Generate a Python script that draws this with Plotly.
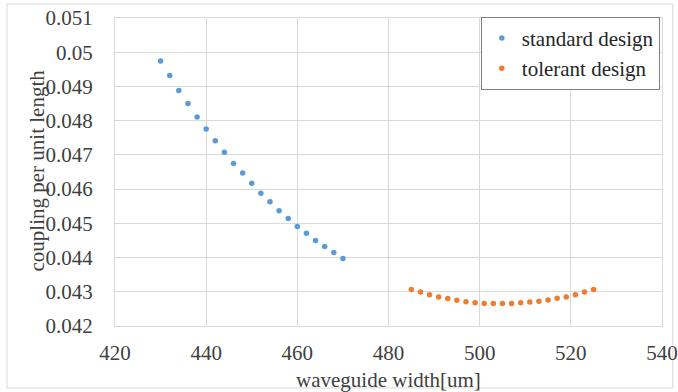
import plotly.graph_objects as go

std_x = [430, 432, 434, 436, 438, 440, 442, 444, 446, 448, 450, 452, 454, 456, 458, 460, 462, 464, 466, 468, 470]
std_y = [0.04974, 0.04932, 0.04888, 0.04850, 0.04811, 0.04776, 0.04741, 0.04708, 0.04675, 0.04647, 0.04617,
         0.04588, 0.04563, 0.04537, 0.04514, 0.04491, 0.04471, 0.04450, 0.04432, 0.04415, 0.04397]

tol_x = [485, 487, 489, 491, 493, 495, 497, 499, 501, 503, 505, 507, 509, 511, 513, 515, 517, 519, 521, 523, 525]
tol_y = [0.04307, 0.04299, 0.04291, 0.04285, 0.04280, 0.04275, 0.04271, 0.04268, 0.04266, 0.04266, 0.04266,
         0.04266, 0.04268, 0.04270, 0.04272, 0.04276, 0.04281, 0.04285, 0.04291, 0.04299, 0.04307]

y_ticks = [0.042, 0.043, 0.044, 0.045, 0.046, 0.047, 0.048, 0.049, 0.050, 0.051]
y_tick_text = ["0.042", "0.043", "0.044", "0.045", "0.046", "0.047", "0.048", "0.049", "0.05", "0.051"]
x_ticks = [420, 440, 460, 480, 500, 520, 540]

FONT = "Liberation Serif, Times New Roman, serif"
FS = 21
COL = "#404040"

fig = go.Figure()
fig.add_trace(go.Scatter(x=std_x, y=std_y, mode="markers", name="standard design",
                         marker=dict(color="#5B9BD5", size=5.5)))
fig.add_trace(go.Scatter(x=tol_x, y=tol_y, mode="markers", name="tolerant design",
                         marker=dict(color="#ED7D31", size=5.5)))

axis_common = dict(showgrid=True, gridcolor="#D9D9D9", gridwidth=1, zeroline=False,
                   showline=True, linecolor="#D9D9D9", linewidth=1, mirror=True,
                   ticks="", automargin=False,
                   tickfont=dict(family=FONT, size=FS, color=COL))

fig.update_xaxes(range=[420, 540], tickvals=x_ticks, ticklabelstandoff=8, **axis_common)
fig.update_yaxes(range=[0.042, 0.051], tickvals=y_ticks, ticktext=y_tick_text,
                 ticklabelstandoff=17, **axis_common)

fig.add_annotation(text="waveguide width[um]", xref="paper", yref="paper", x=0.5, y=-0.175,
                   xanchor="center", yanchor="middle", showarrow=False,
                   font=dict(family=FONT, size=FS, color=COL))
fig.add_annotation(text="coupling per unit length", xref="paper", yref="paper", x=-0.1426, y=0.505,
                   xanchor="center", yanchor="middle", textangle=-90, showarrow=False,
                   font=dict(family=FONT, size=FS, color=COL))

fig.add_shape(type="rect", xref="paper", yref="paper", x0=-0.1974, x1=1.0197, y0=-0.2013, y1=1.0455,
              line=dict(color="#D9D9D9", width=1), fillcolor="rgba(0,0,0,0)", layer="below")

fig.update_layout(
    width=678, height=392,
    margin=dict(l=115, r=16, t=18, b=66),
    paper_bgcolor="white", plot_bgcolor="white",
    font=dict(family=FONT, size=FS, color=COL),
    legend=dict(x=0.996, y=1.004, xanchor="right", yanchor="top",
                bgcolor="white", bordercolor="#808080", borderwidth=1,
                font=dict(family=FONT, size=FS, color="#262626"),
                itemwidth=30, tracegroupgap=0),
    showlegend=True,
)

fig.write_html("out.html", config={"displayModeBar": False},
               post_script="document.body.style.margin='0';document.body.style.padding='0';"
                           "document.body.style.overflow='hidden';")
